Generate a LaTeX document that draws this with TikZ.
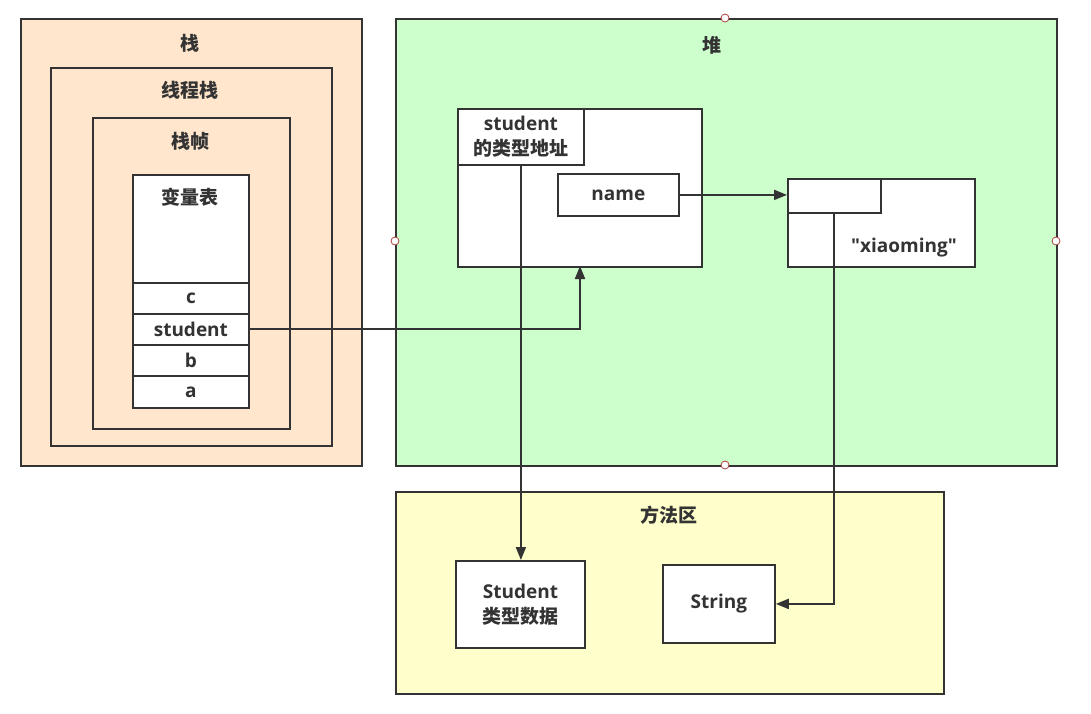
\documentclass[tikz,border=0pt]{standalone}
\usepackage{fontspec}
\setmainfont{Open Sans}
\newfontfamily\cjk{Noto Sans CJK SC}
\usetikzlibrary{arrows.meta,calc}
\definecolor{ln}{HTML}{333333}
\definecolor{peach}{HTML}{FFE6CC}
\definecolor{mint}{HTML}{CCFFCC}
\definecolor{cream}{HTML}{FFFFCC}
\definecolor{handle}{HTML}{B04040}
\tikzset{
  box/.style={draw=ln, line width=1.8pt, inner sep=0pt, anchor=north west},
  ttl/.style={text=ln, font=\bfseries\fontsize{19}{25}\selectfont, inner sep=0pt, align=center},
  arr/.style={draw=ln, line width=2pt, -{Triangle[length=13pt,width=10pt]}},
  hdl/.style={circle, draw=handle, fill=white, line width=0.8pt, minimum size=8pt, inner sep=0pt},
}
\begin{document}
\begin{tikzpicture}[x=1pt,y=-1pt]
\useasboundingbox (0,0) rectangle (1091,713);
% stack
\node[box, fill=peach, minimum width=341pt, minimum height=447pt] (stack) at (20,18) {};
\node[ttl] (stackT) at (190,43) {\cjk\bfseries 栈};
\node[box, fill=peach, minimum width=281pt, minimum height=378pt] (thread) at (50,67) {};
\node[ttl] (threadT) at (190,90) {\cjk\bfseries 线程栈};
\node[box, fill=peach, minimum width=197pt, minimum height=311pt] (frame) at (92,117) {};
\node[ttl] (frameT) at (190,141) {\cjk\bfseries 栈帧};
\node[box, fill=white, minimum width=116pt, minimum height=233pt] (vtab) at (132,174) {};
\node[ttl] (vtabT) at (190,197) {\cjk\bfseries 变量表};
\node[box, fill=white, minimum width=116pt, minimum height=31pt] (vc) at (132,282) {};
\node[ttl] at (vc.center) {c};
\node[box, fill=white, minimum width=116pt, minimum height=31pt] (vstudent) at (132,313) {};
\node[ttl] at (vstudent.center) {student};
\node[box, fill=white, minimum width=116pt, minimum height=31pt] (vb) at (132,344) {};
\node[ttl] at (vb.center) {b};
\node[box, fill=white, minimum width=116pt, minimum height=32pt] (va) at (132,375) {};
\node[ttl] at (va.center) {a};
% heap
\node[box, fill=mint, minimum width=661pt, minimum height=447pt] (heap) at (395,18) {};
\node[ttl] (heapT) at (712,45) {\cjk\bfseries 堆};
\node[box, fill=white, minimum width=244pt, minimum height=158pt] (obj) at (457,108) {};
\node[box, fill=white, minimum width=126pt, minimum height=56pt] (typeaddr) at (457,108) {};
\node[ttl] at (typeaddr.center) {student\\\cjk\bfseries 的类型地址};
\node[box, fill=white, minimum width=121pt, minimum height=42pt] (name) at (557,173) {};
\node[ttl] at (name.center) {name};
\node[box, fill=white, minimum width=187pt, minimum height=88pt] (strobj) at (787,178) {};
\node[box, fill=white, minimum width=93pt, minimum height=34pt] (strinner) at (787,178) {};
\node[ttl] (xm) at (904,248) {\textquotedbl xiaoming\textquotedbl};
% method area
\node[box, fill=cream, minimum width=548pt, minimum height=202pt] (method) at (395,491) {};
\node[ttl] (methodT) at (669,515) {\cjk\bfseries 方法区};
\node[box, fill=white, minimum width=129pt, minimum height=87pt] (stud) at (455,560) {};
\node[ttl] at (stud.center) {Student\\\cjk\bfseries 类型数据};
\node[box, fill=white, minimum width=112pt, minimum height=78pt] (string) at (662,564) {};
\node[ttl] at (string.center) {String};
% connectors
\coordinate (objin) at (580,266);
\draw[arr] (vstudent.east) -| (objin);
\draw[arr] (name.east) -- (name.east -| strinner.west);
\draw[arr] (typeaddr.south) -- (typeaddr.south |- stud.north);
\draw[arr] (strinner.south) |- (string.east);
% handles
\node[hdl] (h1) at (725,18) {};
\node[hdl] (h2) at (395,241) {};
\node[hdl] (h3) at (1056,241) {};
\node[hdl] (h4) at (725,465) {};
\end{tikzpicture}
\end{document}
